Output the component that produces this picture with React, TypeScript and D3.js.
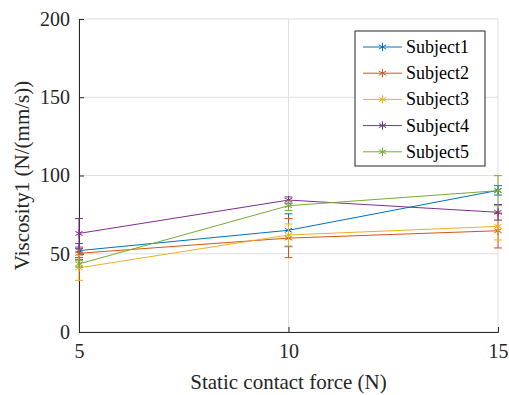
import React, { useEffect, useRef } from 'react';
import * as d3 from 'd3';

const forces = [5, 10, 15];
const subjects = ['Subject1', 'Subject2', 'Subject3', 'Subject4', 'Subject5'];
const colors = ['#0072BD', '#D95319', '#EDB120', '#7E2F8E', '#77AC30'];
const means = [
  [52, 65, 90.5],
  [50.3, 60, 64.7],
  [41, 62, 67.5],
  [63, 84.3, 76.5],
  [43.5, 80.7, 90.3],
];
const errors = [
  [4.5, 10.5, 3],
  [4, 12.5, 11],
  [8, 7, 8.7],
  [9.5, 2, 5],
  [2, 3, 9.6],
];
const yTicks = [0, 50, 100, 150, 200];

export default function App() {
  const svgRef = useRef<SVGSVGElement>(null);
  const width = 509;
  const height = 395;

  useEffect(() => {
    if (!svgRef.current) return;
    const svg = d3.select(svgRef.current);
    svg.selectAll('*').remove();

    const m = { top: 19, right: 11, bottom: 63, left: 79 };
    const iw = width - m.left - m.right;
    const ih = height - m.top - m.bottom;
    const font = '"Liberation Serif", "DejaVu Serif", "Times New Roman", Times, serif';

    svg.append('rect').attr('width', width).attr('height', height).attr('fill', '#fff');
    const g = svg.append('g').attr('transform', `translate(${m.left},${m.top})`);

    const x = d3.scaleLinear().domain([5, 15]).range([0, iw]);
    const y = d3.scaleLinear().domain([0, 200]).range([ih, 0]);

    // grid
    g.append('g').selectAll('line').data(yTicks).enter().append('line')
      .attr('x1', 0).attr('x2', iw).attr('y1', d => y(d)).attr('y2', d => y(d))
      .attr('stroke', '#dfdfdf').attr('stroke-width', 1);
    g.append('g').selectAll('line').data(forces).enter().append('line')
      .attr('x1', d => x(d)).attr('x2', d => x(d)).attr('y1', 0).attr('y2', ih)
      .attr('stroke', '#dfdfdf').attr('stroke-width', 1);

    // axes
    const yAxis = g.append('g').call(d3.axisLeft(y).tickValues(yTicks).tickSize(-5).tickPadding(9));
    const xAxis = g.append('g').attr('transform', `translate(0,${ih})`)
      .call(d3.axisBottom(x).tickValues(forces).tickSize(-5).tickPadding(12));
    [yAxis, xAxis].forEach(a => {
      a.attr('font-family', null).attr('font-size', null);
      a.select('.domain').attr('stroke', '#262626');
      a.selectAll('.tick line').attr('stroke', '#262626');
      a.selectAll('text').attr('fill', '#262626').style('font-family', font).style('font-size', '20px');
    });

    const line = d3.line<number>().x((_, i) => x(forces[i])).y(d => y(d));
    const star = d3.symbol().type(d3.symbolAsterisk).size(50);

    subjects.forEach((_, s) => {
      const c = colors[s];
      const eg = g.append('g');
      forces.forEach((f, i) => {
        const cx = x(f);
        const lo = y(means[s][i] - errors[s][i]);
        const hi = y(means[s][i] + errors[s][i]);
        eg.append('line').attr('x1', cx).attr('x2', cx).attr('y1', lo).attr('y2', hi).attr('stroke', c);
        [lo, hi].forEach(yy => eg.append('line').attr('x1', cx - 4).attr('x2', cx + 4).attr('y1', yy).attr('y2', yy).attr('stroke', c));
      });
      g.append('path').datum(means[s]).attr('d', line).attr('fill', 'none').attr('stroke', c).attr('stroke-width', 1);
      g.append('g').selectAll('path').data(means[s]).enter().append('path')
        .attr('d', star).attr('transform', (d, i) => `translate(${x(forces[i])},${y(d)})`)
        .attr('fill', 'none').attr('stroke', c).attr('stroke-width', 1);
    });

    // legend
    const lg = svg.append('g').attr('transform', 'translate(355,31)');
    lg.append('rect').attr('width', 130).attr('height', 135).attr('fill', '#fff').attr('stroke', '#262626').attr('stroke-width', 1);
    subjects.forEach((name, s) => {
      const yy = 16 + s * 26.2;
      lg.append('line').attr('x1', 8).attr('x2', 47).attr('y1', yy).attr('y2', yy).attr('stroke', colors[s]);
      lg.append('path').attr('d', star).attr('transform', `translate(27.5,${yy})`).attr('fill', 'none').attr('stroke', colors[s]);
      lg.append('text').attr('x', 51).attr('y', yy + 6).attr('fill', '#000').style('font-family', font).style('font-size', '18px').text(name);
    });

    // labels
    svg.append('text').attr('x', m.left + iw / 2).attr('y', 389).attr('text-anchor', 'middle')
      .attr('fill', '#262626').style('font-family', font).style('font-size', '21px').text('Static contact force (N)');
    svg.append('text').attr('transform', `translate(29,${m.top + ih / 2}) rotate(-90)`).attr('text-anchor', 'middle')
      .attr('fill', '#262626').style('font-family', font).style('font-size', '21px').text('Viscosity1 (N/(mm/s))');
  }, []);

  return <svg ref={svgRef} width={width} height={height} style={{ position: 'absolute', left: 0, top: 0 }} />;
}
